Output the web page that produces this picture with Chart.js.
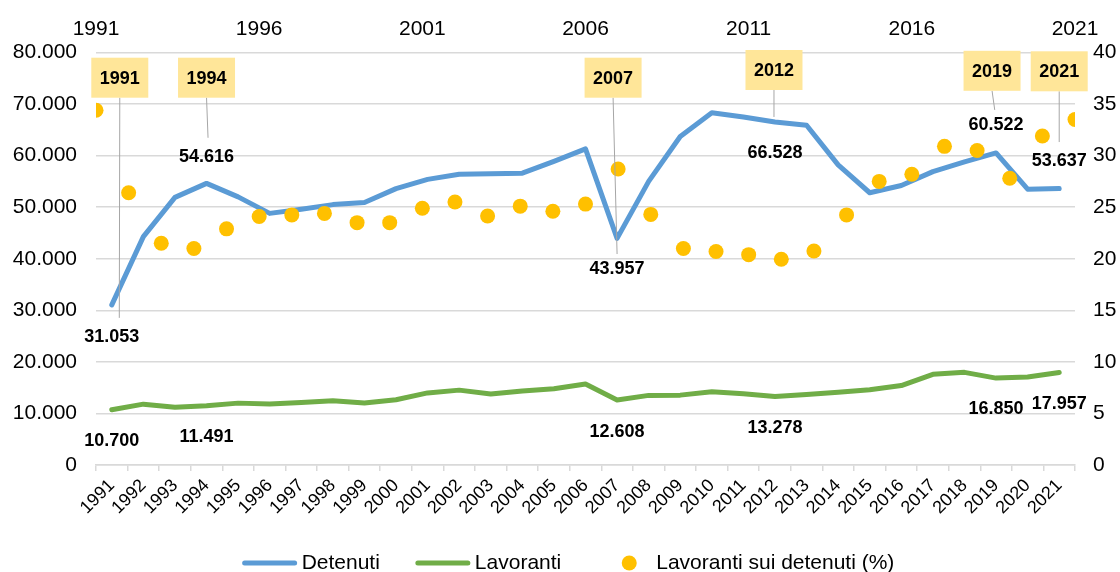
<!DOCTYPE html>
<html lang="it">
<head>
<meta charset="utf-8">
<title>Detenuti e lavoranti</title>
<script src="https://cdn.jsdelivr.net/npm/chart.js@4.4.1/dist/chart.umd.min.js"></script>
<style>
    html, body { margin: 0; padding: 0; background: #ffffff; }
    #contenitore { width: 1120px; height: 572px; }
</style>
</head>
<body>
<div id="contenitore"><canvas id="grafico" width="1120" height="572"></canvas></div>
<script>
// dati (presenze a metà anno)
const anni = [1991, 1992, 1993, 1994, 1995, 1996, 1997, 1998, 1999, 2000,
    2001, 2002, 2003, 2004, 2005, 2006, 2007, 2008, 2009, 2010,
    2011, 2012, 2013, 2014, 2015, 2016, 2017, 2018, 2019, 2020, 2021]

const detenuti = [31053, 44300, 51900, 54616, 52000, 48800, 49600, 50500, 50900, 53600,
    55400, 56400, 56500, 56600, 58900, 61300, 43957, 55000, 63700, 68300,
    67500, 66528, 65900, 58200, 52800, 54200, 56900, 58800, 60522, 53500, 53637]

const lavoranti = [10700, 11800, 11200, 11491, 12000, 11850, 12130, 12450, 12030, 12650,
    13980, 14520, 13770, 14360, 14780, 15700, 12608, 13500, 13550, 14200,
    13810, 13278, 13690, 14115, 14600, 15400, 17590, 17970, 16850, 17080, 17957]

const percentuale = [34.4, 26.4, 21.5, 21.0, 22.9, 24.1, 24.25, 24.4, 23.5, 23.5,
    24.9, 25.5, 24.15, 25.1, 24.6, 25.3, 28.7, 24.3, 21.0, 20.7,
    20.4, 19.95, 20.75, 24.25, 27.5, 28.2, 30.9, 30.5, 27.8, 31.9, 33.5]

// anni evidenziati con il riquadro giallo
const anniEvidenziati = [1991, 1994, 2007, 2012, 2019, 2021]

// posizioni dei riquadri e delle etichette (spostamenti in pixel rispetto ai punti)
const posizioniRichiami = [
    { boxDx: 8, boxDy: 25.2, capoDx: 7.5, capoDy: 13, detDy: 32, lavDy: 31.5 },
    { boxDx: 0, boxDy: 25.2, capoDx: 1.5, capoDy: -45.6, detDy: -26.6, lavDy: 31.5 },
    { boxDx: -4, boxDy: 25.2, capoDx: 0, capoDy: 15.7, detDy: 31, lavDy: 32 },
    { boxDx: -1, boxDy: 17.5, capoDx: -1, capoDy: -5, detDy: 31.4, lavDy: 31.5 },
    { boxDx: -4, boxDy: 18.3, capoDx: -1.3, capoDy: -43, detDy: -28, lavDy: 31 },
    { boxDx: 0, boxDy: 18.8, capoDx: 0, capoDy: -46.4, detDy: -27.4, lavDy: 31.6 }
]

const fontBase = "'Liberation Sans', Arial, sans-serif"
Chart.defaults.font.family = fontBase
Chart.defaults.color = '#000000'

//numeri con il punto delle migliaia
function formatoIt(n){
    return String(Math.round(n)).replace(/\B(?=(\d{3})+(?!\d))/g, '.')
}

// riquadri, linee guida ed etichette dei valori
const etichette = {
    id: 'etichette',
    afterDatasetsDraw(chart){
        const c = chart.ctx
        const top = chart.chartArea.top
        const metaDet = chart.getDatasetMeta(0)
        const metaLav = chart.getDatasetMeta(1)
        c.save()
        c.font = 'bold 18px ' + fontBase
        c.textAlign = 'center'
        c.textBaseline = 'middle'
        anniEvidenziati.forEach(function(anno, k){
            const p = posizioniRichiami[k]
            const i = anni.indexOf(anno)
            const pd = metaDet.data[i]
            const pl = metaLav.data[i]
            const boxX = pd.x + p.boxDx
            const boxY = top + p.boxDy

            //linea guida
            c.strokeStyle = '#a6a6a6'
            c.lineWidth = 1
            c.beginPath()
            c.moveTo(boxX, boxY + 20)
            c.lineTo(pd.x + p.capoDx, pd.y + p.capoDy)
            c.stroke()

            //riquadro giallo
            c.fillStyle = '#ffe699'
            c.fillRect(boxX - 28.5, boxY - 20, 57, 40)
            c.fillStyle = '#000000'
            c.fillText(String(anno), boxX, boxY + 1)

            c.fillText(formatoIt(detenuti[i]), pd.x, pd.y + p.detDy)
            c.fillText(formatoIt(lavoranti[i]), pl.x, pl.y + p.lavDy)
        })
        c.restore()
    }
}

// legenda disegnata sotto il grafico
const legenda = {
    id: 'legenda',
    afterDraw(chart){
        const c = chart.ctx
        c.save()
        c.font = '21px ' + fontBase
        c.textBaseline = 'middle'
        c.textAlign = 'left'
        const voci = chart.data.datasets.map(function(ds){
            return { testo: ds.label, colore: ds.type === 'scatter' ? ds.backgroundColor : ds.borderColor, punto: ds.type === 'scatter' }
        })
        const simbolo = 54, spazio = 5, distanza = 36
        let totale = distanza * (voci.length - 1)
        voci.forEach(v => { totale += simbolo + spazio + c.measureText(v.testo).width })
        let x = 568.5 - totale / 2
        const y = 563
        voci.forEach(function(v){
            if(v.punto){
                c.fillStyle = v.colore
                c.beginPath()
                c.arc(x + simbolo / 2 + 5, y, 7.5, 0, Math.PI * 2)
                c.fill()
            } else {
                c.strokeStyle = v.colore
                c.lineWidth = 5
                c.lineCap = 'round'
                c.beginPath()
                c.moveTo(x + 2, y)
                c.lineTo(x + simbolo - 2, y)
                c.stroke()
            }
            c.fillStyle = '#000000'
            c.fillText(v.testo, x + simbolo + spazio, y)
            x += simbolo + spazio + c.measureText(v.testo).width + distanza
        })
        c.restore()
    }
}

const canvasGrafico = document.querySelector('canvas#grafico')

let grafico = new Chart(canvasGrafico, {
    type: 'line',
    data: {
        labels: anni.map(String),
        datasets: [
            {
                label: 'Detenuti',
                data: detenuti,
                xAxisID: 'x',
                yAxisID: 'y',
                borderColor: '#5b9bd5',
                backgroundColor: '#5b9bd5',
                borderWidth: 5,
                pointRadius: 0,
                borderCapStyle: 'round',
                borderJoinStyle: 'round',
                order: 1
            },
            {
                label: 'Lavoranti',
                data: lavoranti,
                xAxisID: 'x',
                yAxisID: 'y',
                borderColor: '#70ad47',
                backgroundColor: '#70ad47',
                borderWidth: 5,
                pointRadius: 0,
                borderCapStyle: 'round',
                borderJoinStyle: 'round',
                order: 2
            },
            {
                type: 'scatter',
                label: 'Lavoranti sui detenuti (%)',
                data: anni.map((a, i) => ({ x: a, y: percentuale[i] })),
                xAxisID: 'xTop',
                yAxisID: 'y2',
                backgroundColor: '#ffc000',
                borderWidth: 0,
                pointRadius: 7.5,
                order: 0
            }
        ]
    },
    options: {
        responsive: false,
        animation: false,
        layout: { padding: 0 },
        plugins: {
            legend: { display: false },
            tooltip: { enabled: false }
        },
        scales: {
            x: {
                type: 'category',
                position: 'bottom',
                offset: true,
                grid: { offset: true, drawOnChartArea: false, color: '#d9d9d9', lineWidth: 1.5, tickLength: 6 },
                border: { color: '#d9d9d9', width: 1.5 },
                ticks: { autoSkip: false, minRotation: 45, maxRotation: 45, font: { size: 18 }, color: '#000000', padding: 4 },
                afterFit(s){ s.height = 107 }
            },
            xTop: {
                type: 'linear',
                position: 'top',
                min: 1991,
                max: 2021,
                grid: { display: false },
                border: { display: false },
                ticks: { stepSize: 5, callback: v => String(v), font: { size: 21 }, color: '#000000', padding: 3 },
                afterFit(s){ s.height = 52.5 }
            },
            y: {
                position: 'left',
                min: 0,
                max: 80000,
                grid: { color: '#d9d9d9', lineWidth: 1.5, drawTicks: false },
                border: { display: false },
                ticks: { stepSize: 10000, callback: v => formatoIt(v), font: { size: 21 }, color: '#000000', padding: 19 },
                afterFit(s){ s.width = 96 }
            },
            y2: {
                position: 'right',
                min: 0,
                max: 40,
                grid: { display: false, drawTicks: false },
                border: { display: false },
                ticks: { stepSize: 5, font: { size: 21 }, color: '#000000', padding: 18 },
                afterFit(s){ s.width = 45 }
            }
        }
    },
    plugins: [etichette, legenda]
})
</script>
</body>
</html>
